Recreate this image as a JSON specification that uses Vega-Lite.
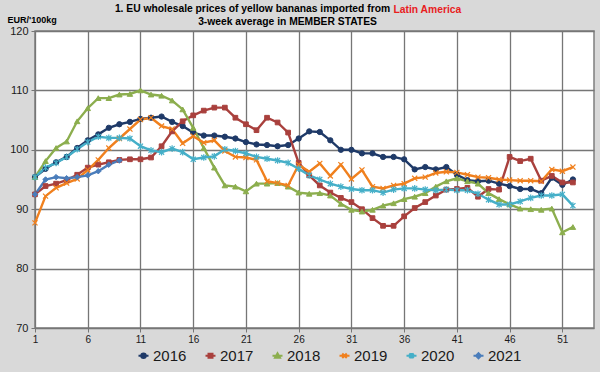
{
  "$schema": "https://vega.github.io/schema/vega-lite/v6.json",
  "width": 559,
  "height": 297,
  "autosize": {"type": "none"},
  "padding": {"left": 35, "top": 31, "right": 6, "bottom": 44},
  "background": "#D9D9D9",
  "config": {
    "view": {"fill": "white", "stroke": "#7F7F7F", "strokeWidth": 1.5},
    "font": "Liberation Sans"
  },
  "title": {
    "text": "1. EU wholesale prices of yellow bananas imported from",
    "anchor": "middle",
    "frame": "group",
    "dx": -62,
    "offset": -10.5,
    "fontSize": 10.3,
    "fontWeight": "bold",
    "color": "#000000"
  },
  "datasets": {
    "prices": [
      {"week":1,"year":"2016","price":95.4},{"week":2,"year":"2016","price":96.8},{"week":3,"year":"2016","price":97.9},{"week":4,"year":"2016","price":98.8},{"week":5,"year":"2016","price":100.3},{"week":6,"year":"2016","price":101.6},{"week":7,"year":"2016","price":102.6},{"week":8,"year":"2016","price":103.7},{"week":9,"year":"2016","price":104.3},{"week":10,"year":"2016","price":104.7},{"week":11,"year":"2016","price":105.2},{"week":12,"year":"2016","price":105.4},{"week":13,"year":"2016","price":105.6},{"week":14,"year":"2016","price":104.7},{"week":15,"year":"2016","price":104.0},{"week":16,"year":"2016","price":102.9},{"week":17,"year":"2016","price":102.4},{"week":18,"year":"2016","price":102.4},{"week":19,"year":"2016","price":102.2},{"week":20,"year":"2016","price":101.9},{"week":21,"year":"2016","price":101.3},{"week":22,"year":"2016","price":100.9},{"week":23,"year":"2016","price":100.8},{"week":24,"year":"2016","price":100.6},{"week":25,"year":"2016","price":100.8},{"week":26,"year":"2016","price":101.9},{"week":27,"year":"2016","price":103.1},{"week":28,"year":"2016","price":103.0},{"week":29,"year":"2016","price":101.6},{"week":30,"year":"2016","price":100.0},{"week":31,"year":"2016","price":100.0},{"week":32,"year":"2016","price":99.4},{"week":33,"year":"2016","price":99.4},{"week":34,"year":"2016","price":98.8},{"week":35,"year":"2016","price":98.8},{"week":36,"year":"2016","price":98.4},{"week":37,"year":"2016","price":96.7},{"week":38,"year":"2016","price":97.1},{"week":39,"year":"2016","price":96.7},{"week":40,"year":"2016","price":97.1},{"week":41,"year":"2016","price":95.8},{"week":42,"year":"2016","price":94.9},{"week":43,"year":"2016","price":94.7},{"week":44,"year":"2016","price":94.8},{"week":45,"year":"2016","price":94.3},{"week":46,"year":"2016","price":93.9},{"week":47,"year":"2016","price":93.4},{"week":48,"year":"2016","price":93.4},{"week":49,"year":"2016","price":92.7},{"week":50,"year":"2016","price":95.3},{"week":51,"year":"2016","price":94.1},{"week":52,"year":"2016","price":95.0},
      {"week":1,"year":"2017","price":92.5},{"week":2,"year":"2017","price":93.9},{"week":3,"year":"2017","price":94.3},{"week":4,"year":"2017","price":94.9},{"week":5,"year":"2017","price":95.8},{"week":6,"year":"2017","price":97.0},{"week":7,"year":"2017","price":97.5},{"week":8,"year":"2017","price":97.9},{"week":9,"year":"2017","price":98.3},{"week":10,"year":"2017","price":98.4},{"week":11,"year":"2017","price":98.4},{"week":12,"year":"2017","price":98.7},{"week":13,"year":"2017","price":100.6},{"week":14,"year":"2017","price":103.1},{"week":15,"year":"2017","price":104.8},{"week":16,"year":"2017","price":105.8},{"week":17,"year":"2017","price":106.6},{"week":18,"year":"2017","price":107.1},{"week":19,"year":"2017","price":107.1},{"week":20,"year":"2017","price":105.4},{"week":21,"year":"2017","price":104.3},{"week":22,"year":"2017","price":103.3},{"week":23,"year":"2017","price":105.4},{"week":24,"year":"2017","price":104.6},{"week":25,"year":"2017","price":102.9},{"week":26,"year":"2017","price":97.8},{"week":27,"year":"2017","price":95.7},{"week":28,"year":"2017","price":94.0},{"week":29,"year":"2017","price":92.8},{"week":30,"year":"2017","price":91.9},{"week":31,"year":"2017","price":91.2},{"week":32,"year":"2017","price":90.0},{"week":33,"year":"2017","price":88.5},{"week":34,"year":"2017","price":87.2},{"week":35,"year":"2017","price":87.2},{"week":36,"year":"2017","price":88.8},{"week":37,"year":"2017","price":90.2},{"week":38,"year":"2017","price":91.2},{"week":39,"year":"2017","price":92.3},{"week":40,"year":"2017","price":93.3},{"week":41,"year":"2017","price":93.4},{"week":42,"year":"2017","price":93.6},{"week":43,"year":"2017","price":92.1},{"week":44,"year":"2017","price":93.4},{"week":45,"year":"2017","price":93.3},{"week":46,"year":"2017","price":98.8},{"week":47,"year":"2017","price":98.1},{"week":48,"year":"2017","price":98.5},{"week":49,"year":"2017","price":94.8},{"week":50,"year":"2017","price":95.6},{"week":51,"year":"2017","price":94.5},{"week":52,"year":"2017","price":94.5},
      {"week":1,"year":"2018","price":95.4},{"week":2,"year":"2018","price":98.1},{"week":3,"year":"2018","price":100.3},{"week":4,"year":"2018","price":101.4},{"week":5,"year":"2018","price":104.8},{"week":6,"year":"2018","price":107.0},{"week":7,"year":"2018","price":108.7},{"week":8,"year":"2018","price":108.7},{"week":9,"year":"2018","price":109.3},{"week":10,"year":"2018","price":109.4},{"week":11,"year":"2018","price":110.0},{"week":12,"year":"2018","price":109.3},{"week":13,"year":"2018","price":109.1},{"week":14,"year":"2018","price":108.3},{"week":15,"year":"2018","price":106.8},{"week":16,"year":"2018","price":103.7},{"week":17,"year":"2018","price":100.3},{"week":18,"year":"2018","price":97.0},{"week":19,"year":"2018","price":94.0},{"week":20,"year":"2018","price":93.8},{"week":21,"year":"2018","price":93.0},{"week":22,"year":"2018","price":94.3},{"week":23,"year":"2018","price":94.3},{"week":24,"year":"2018","price":94.4},{"week":25,"year":"2018","price":93.8},{"week":26,"year":"2018","price":92.8},{"week":27,"year":"2018","price":92.6},{"week":28,"year":"2018","price":92.7},{"week":29,"year":"2018","price":92.3},{"week":30,"year":"2018","price":90.9},{"week":31,"year":"2018","price":89.9},{"week":32,"year":"2018","price":89.6},{"week":33,"year":"2018","price":89.9},{"week":34,"year":"2018","price":90.6},{"week":35,"year":"2018","price":91.0},{"week":36,"year":"2018","price":91.7},{"week":37,"year":"2018","price":92.1},{"week":38,"year":"2018","price":92.7},{"week":39,"year":"2018","price":93.8},{"week":40,"year":"2018","price":94.7},{"week":41,"year":"2018","price":95.2},{"week":42,"year":"2018","price":94.7},{"week":43,"year":"2018","price":94.3},{"week":44,"year":"2018","price":92.7},{"week":45,"year":"2018","price":91.7},{"week":46,"year":"2018","price":90.8},{"week":47,"year":"2018","price":90.1},{"week":48,"year":"2018","price":90.0},{"week":49,"year":"2018","price":89.9},{"week":50,"year":"2018","price":90.1},{"week":51,"year":"2018","price":86.1},{"week":52,"year":"2018","price":87.0},
      {"week":1,"year":"2019","price":87.7},{"week":2,"year":"2019","price":92.2},{"week":3,"year":"2019","price":93.6},{"week":4,"year":"2019","price":94.4},{"week":5,"year":"2019","price":95.1},{"week":6,"year":"2019","price":96.6},{"week":7,"year":"2019","price":98.3},{"week":8,"year":"2019","price":100.3},{"week":9,"year":"2019","price":101.9},{"week":10,"year":"2019","price":103.5},{"week":11,"year":"2019","price":105.1},{"week":12,"year":"2019","price":105.4},{"week":13,"year":"2019","price":104.0},{"week":14,"year":"2019","price":103.5},{"week":15,"year":"2019","price":101.1},{"week":16,"year":"2019","price":102.3},{"week":17,"year":"2019","price":101.2},{"week":18,"year":"2019","price":101.6},{"week":19,"year":"2019","price":99.8},{"week":20,"year":"2019","price":98.8},{"week":21,"year":"2019","price":98.7},{"week":22,"year":"2019","price":98.3},{"week":23,"year":"2019","price":94.7},{"week":24,"year":"2019","price":94.4},{"week":25,"year":"2019","price":94.0},{"week":26,"year":"2019","price":97.5},{"week":27,"year":"2019","price":96.3},{"week":28,"year":"2019","price":97.7},{"week":29,"year":"2019","price":95.6},{"week":30,"year":"2019","price":97.5},{"week":31,"year":"2019","price":95.1},{"week":32,"year":"2019","price":96.6},{"week":33,"year":"2019","price":93.8},{"week":34,"year":"2019","price":93.5},{"week":35,"year":"2019","price":94.0},{"week":36,"year":"2019","price":94.3},{"week":37,"year":"2019","price":95.2},{"week":38,"year":"2019","price":95.4},{"week":39,"year":"2019","price":96.1},{"week":40,"year":"2019","price":96.3},{"week":41,"year":"2019","price":96.2},{"week":42,"year":"2019","price":95.8},{"week":43,"year":"2019","price":95.4},{"week":44,"year":"2019","price":95.3},{"week":45,"year":"2019","price":95.0},{"week":46,"year":"2019","price":94.9},{"week":47,"year":"2019","price":94.8},{"week":48,"year":"2019","price":94.8},{"week":49,"year":"2019","price":94.7},{"week":50,"year":"2019","price":96.7},{"week":51,"year":"2019","price":96.4},{"week":52,"year":"2019","price":97.1},
      {"week":1,"year":"2020","price":95.4},{"week":2,"year":"2020","price":97.0},{"week":3,"year":"2020","price":97.8},{"week":4,"year":"2020","price":98.8},{"week":5,"year":"2020","price":100.1},{"week":6,"year":"2020","price":101.3},{"week":7,"year":"2020","price":102.2},{"week":8,"year":"2020","price":102.0},{"week":9,"year":"2020","price":102.0},{"week":10,"year":"2020","price":101.9},{"week":11,"year":"2020","price":100.6},{"week":12,"year":"2020","price":99.9},{"week":13,"year":"2020","price":99.6},{"week":14,"year":"2020","price":100.2},{"week":15,"year":"2020","price":99.6},{"week":16,"year":"2020","price":98.4},{"week":17,"year":"2020","price":98.7},{"week":18,"year":"2020","price":98.9},{"week":19,"year":"2020","price":100.1},{"week":20,"year":"2020","price":99.8},{"week":21,"year":"2020","price":99.4},{"week":22,"year":"2020","price":98.8},{"week":23,"year":"2020","price":98.5},{"week":24,"year":"2020","price":98.2},{"week":25,"year":"2020","price":97.8},{"week":26,"year":"2020","price":96.8},{"week":27,"year":"2020","price":95.7},{"week":28,"year":"2020","price":95.0},{"week":29,"year":"2020","price":94.3},{"week":30,"year":"2020","price":93.8},{"week":31,"year":"2020","price":93.4},{"week":32,"year":"2020","price":93.2},{"week":33,"year":"2020","price":93.2},{"week":34,"year":"2020","price":92.8},{"week":35,"year":"2020","price":93.3},{"week":36,"year":"2020","price":93.5},{"week":37,"year":"2020","price":93.5},{"week":38,"year":"2020","price":93.3},{"week":39,"year":"2020","price":93.2},{"week":40,"year":"2020","price":93.3},{"week":41,"year":"2020","price":93.2},{"week":42,"year":"2020","price":93.2},{"week":43,"year":"2020","price":92.6},{"week":44,"year":"2020","price":91.6},{"week":45,"year":"2020","price":90.8},{"week":46,"year":"2020","price":90.8},{"week":47,"year":"2020","price":91.3},{"week":48,"year":"2020","price":91.9},{"week":49,"year":"2020","price":92.3},{"week":50,"year":"2020","price":92.3},{"week":51,"year":"2020","price":92.5},{"week":52,"year":"2020","price":90.6},
      {"week":1,"year":"2021","price":92.5},{"week":2,"year":"2021","price":95.0},{"week":3,"year":"2021","price":95.4},{"week":4,"year":"2021","price":95.2},{"week":5,"year":"2021","price":95.4},{"week":6,"year":"2021","price":95.7},{"week":7,"year":"2021","price":96.4},{"week":8,"year":"2021","price":97.5},{"week":9,"year":"2021","price":98.2}
    ]
  },
  "data": {"name": "prices"},
  "layer": [
    {
      "mark": {"type": "line", "strokeWidth": 2.4},
      "encoding": {
        "x": {
          "field": "week", "type": "quantitative",
          "scale": {"domain": [1, 54], "nice": false, "zero": false},
          "axis": {
            "values": [1, 6, 11, 16, 21, 26, 31, 36, 41, 46, 51],
            "title": null, "grid": true, "gridColor": "#767676", "gridWidth": 1.3,
            "domain": false, "ticks": true, "tickColor": "#767676", "tickSize": 4, "tickWidth": 1,
            "labelFontSize": 10, "labelColor": "#1A1A1A", "labelPadding": 2, "labelFlush": false
          }
        },
        "y": {
          "field": "price", "type": "quantitative",
          "scale": {"domain": [70, 120], "nice": false, "zero": false},
          "axis": {
            "values": [70, 80, 90, 100, 110, 120],
            "title": "EUR/'100kg", "titleAngle": 0, "titleX": -28, "titleY": -12,
            "titleAlign": "left", "titleBaseline": "middle", "titleFontSize": 9, "titleFontWeight": "bold", "titleColor": "#000000",
            "grid": true, "gridColor": "#767676", "gridWidth": 1.3,
            "domain": false, "ticks": true, "tickColor": "#767676", "tickSize": 4, "tickWidth": 1,
            "labelFontSize": 11, "labelColor": "#1A1A1A", "labelPadding": 3
          }
        },
        "color": {
          "field": "year", "type": "nominal",
          "scale": {
            "domain": ["2016", "2017", "2018", "2019", "2020", "2021"],
            "range": ["#1F3A68", "#A9403D", "#8CAE4E", "#F0801E", "#45AFC8", "#4A7DBB"]
          },
          "legend": {
            "orient": "none", "legendX": 101, "legendY": 317, "direction": "horizontal",
            "title": null, "labelFontSize": 15, "labelColor": "#1A1A1A", "labelOffset": 2,
            "symbolSize": 100, "symbolStrokeWidth": 2, "columnPadding": 14,
            "encode": {
              "symbols": {
                "update": {
                  "shape": {"signal": "datum.value === '2016' ? 'M-1,0H1M0.45,0A0.45,0.45,0,1,1,-0.45,0A0.45,0.45,0,1,1,0.45,0Z' : datum.value === '2017' ? 'M-1,0H1M-0.4,-0.4H0.4V0.4H-0.4Z' : datum.value === '2018' ? 'M-1,0H1M0,-0.5L0.5,0.4H-0.5Z' : datum.value === '2019' ? 'M-1,0H1M-0.45,-0.45L0.45,0.45M-0.45,0.45L0.45,-0.45' : datum.value === '2020' ? 'M-1,0H1M-0.45,-0.45L0.45,0.45M-0.45,0.45L0.45,-0.45M0,-0.55V0.55' : 'M-1,0H1M0,-0.5L0.5,0L0,0.5L-0.5,0Z'"},
                  "fill": {"signal": "scale('color', datum.value)"},
                  "stroke": {"signal": "scale('color', datum.value)"},
                  "strokeWidth": {"value": 2},
                  "opacity": {"value": 1}
                }
              }
            }
          }
        }
      }
    },
    {
      "transform": [{"filter": "datum.year === '2016'"}],
      "mark": {"type": "point", "shape": "circle", "filled": true, "size": 28, "fill": "#1F3A68", "stroke": "#1F3A68", "strokeWidth": 1, "opacity": 1},
      "encoding": {
        "x": {
          "field": "week", "type": "quantitative",
          "axis": {
            "orient": "top", "title": "3-week average in MEMBER STATES",
            "titleX": 252, "titleY": -10, "titleAlign": "center", "titleBaseline": "middle",
            "titleFontSize": 10.3, "titleFontWeight": "bold", "titleColor": "#000000",
            "labels": false, "ticks": false, "domain": false, "grid": false
          }
        },
        "y": {
          "field": "price", "type": "quantitative",
          "axis": {
            "orient": "right", "title": "Latin America", "titleAngle": 0,
            "titleX": -201, "titleY": -22, "titleAlign": "left", "titleBaseline": "middle",
            "titleFontSize": 10.3, "titleFontWeight": "bold", "titleColor": "#E8201E",
            "labels": false, "ticks": false, "domain": false, "grid": false
          }
        }
      }
    },
    {
      "transform": [{"filter": "datum.year === '2017'"}],
      "mark": {"type": "point", "shape": "square", "filled": true, "size": 22, "fill": "#A9403D", "stroke": "#A9403D", "strokeWidth": 1, "opacity": 1},
      "encoding": {
        "x": {"field": "week", "type": "quantitative", "axis": null},
        "y": {"field": "price", "type": "quantitative", "axis": null}
      }
    },
    {
      "transform": [{"filter": "datum.year === '2018'"}],
      "mark": {"type": "point", "shape": "triangle-up", "filled": true, "size": 30, "fill": "#8CAE4E", "stroke": "#8CAE4E", "strokeWidth": 1, "opacity": 1},
      "encoding": {
        "x": {"field": "week", "type": "quantitative", "axis": null},
        "y": {"field": "price", "type": "quantitative", "axis": null}
      }
    },
    {
      "transform": [{"filter": "datum.year === '2019'"}],
      "mark": {"type": "point", "shape": "M-1,-1L1,1M-1,1L1,-1", "filled": false, "size": 26, "stroke": "#F0801E", "strokeWidth": 1.2, "opacity": 1},
      "encoding": {
        "x": {"field": "week", "type": "quantitative", "axis": null},
        "y": {"field": "price", "type": "quantitative", "axis": null}
      }
    },
    {
      "transform": [{"filter": "datum.year === '2020'"}],
      "mark": {"type": "point", "shape": "M-1,-1L1,1M-1,1L1,-1M0,-1.3V1.3", "filled": false, "size": 26, "stroke": "#45AFC8", "strokeWidth": 1.2, "opacity": 1},
      "encoding": {
        "x": {"field": "week", "type": "quantitative", "axis": null},
        "y": {"field": "price", "type": "quantitative", "axis": null}
      }
    },
    {
      "transform": [{"filter": "datum.year === '2021'"}],
      "mark": {"type": "point", "shape": "diamond", "filled": true, "size": 30, "fill": "#4A7DBB", "stroke": "#4A7DBB", "strokeWidth": 1, "opacity": 1},
      "encoding": {
        "x": {"field": "week", "type": "quantitative", "axis": null},
        "y": {"field": "price", "type": "quantitative", "axis": null}
      }
    }
  ],
  "resolve": {"axis": {"x": "independent", "y": "independent"}}
}
